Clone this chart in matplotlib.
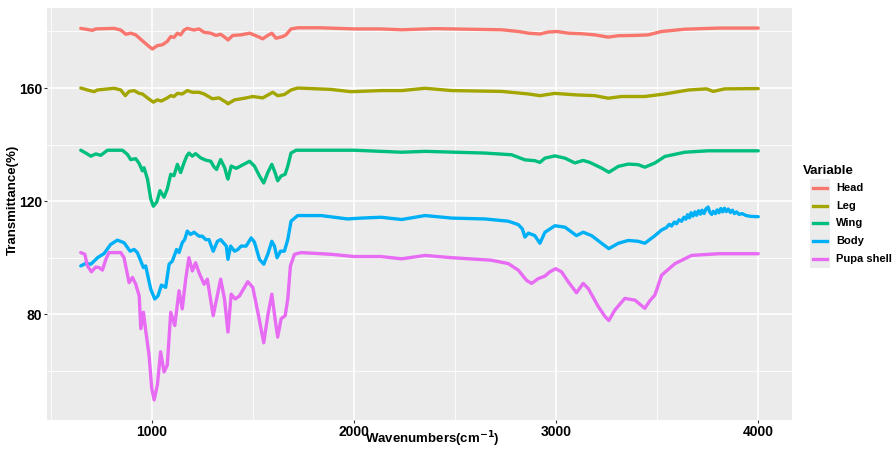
import matplotlib
matplotlib.use("Agg")
import matplotlib.pyplot as plt
from matplotlib.lines import Line2D
from matplotlib.patches import Rectangle
from matplotlib.ticker import MultipleLocator

plt.rcParams['font.family'] = ['Liberation Sans', 'DejaVu Sans']

series_names = ["Head", "Leg", "Wing", "Body", "Pupa shell"]
colors = ["#F8766D", "#A3A500", "#00BF7D", "#00B0F6", "#E76BF3"]

head_x = [649, 707, 723, 814, 847, 872, 896, 921, 954, 987, 1003, 1028, 1053, 1077, 1094, 1110, 1127, 1143, 1160,
          1176, 1209, 1234, 1259, 1292, 1317, 1341, 1361, 1377, 1401, 1442, 1484, 1525, 1549, 1574, 1594, 1615, 1648,
          1664, 1689, 1722, 1837, 2002, 2134, 2236, 2401, 2731, 2813, 2863, 2920, 2961, 3003, 3060, 3126, 3192, 3258,
          3308, 3390, 3456, 3522, 3637, 3802, 4000]
head_y = [181.1, 180.4, 180.9, 181.1, 180.5, 179.0, 179.4, 178.8, 176.7, 174.7, 173.8, 175.0, 175.3, 176.5, 178.2,
          177.9, 179.4, 178.8, 180.5, 181.1, 180.5, 180.9, 179.7, 179.4, 178.6, 179.0, 178.0, 177.0, 178.6, 178.8,
          179.4, 178.2, 177.4, 178.6, 179.4, 177.6, 178.2, 178.8, 180.9, 181.3, 181.3, 180.9, 180.9, 180.6, 181.0,
          180.6, 180.0, 179.4, 179.1, 179.8, 180.0, 179.4, 179.2, 178.8, 178.0, 178.5, 178.6, 178.8, 180.0, 180.8,
          181.2, 181.2]

leg_x = [649, 682, 715, 731, 814, 847, 869, 888, 913, 938, 954, 979, 1008, 1028, 1048, 1077, 1094, 1110, 1127, 1151,
         1176, 1201, 1234, 1259, 1300, 1333, 1374, 1377, 1409, 1459, 1500, 1549, 1599, 1623, 1656, 1689, 1722, 1887,
         1986, 2134, 2236, 2352, 2484, 2731, 2863, 2920, 2994, 3093, 3192, 3258, 3324, 3439, 3538, 3654, 3744, 3777,
         3835, 4000]
leg_y = [160.0, 159.3, 158.7, 159.3, 159.9, 159.3, 157.3, 158.8, 159.1, 158.1, 157.9, 156.5, 155.0, 155.8, 155.4,
         156.5, 157.3, 157.0, 158.1, 157.9, 159.1, 158.5, 158.5, 157.9, 156.2, 156.5, 154.7, 154.4, 155.8, 156.4,
         157.0, 156.5, 158.5, 157.3, 157.7, 159.3, 160.0, 159.5, 158.7, 159.1, 159.1, 159.9, 159.1, 158.8, 157.9,
         157.3, 158.1, 157.6, 157.3, 156.4, 157.0, 157.0, 157.9, 159.3, 159.7, 158.8, 159.7, 159.8]

wing_x = [649, 674, 699, 723, 748, 781, 855, 880, 896, 921, 938, 954, 962, 979, 995, 1008, 1025, 1041, 1061, 1077,
          1094, 1110, 1127, 1143, 1160, 1173, 1184, 1201, 1217, 1242, 1267, 1292, 1308, 1321, 1341, 1361, 1374, 1377,
          1393, 1418, 1484, 1508, 1533, 1554, 1574, 1594, 1610, 1623, 1640, 1660, 1673, 1689, 1714, 1837, 2002, 2134,
          2236, 2352, 2648, 2780, 2846, 2895, 2920, 2945, 2994, 3044, 3093, 3134, 3167, 3225, 3261, 3308, 3357, 3406,
          3439, 3489, 3538, 3637, 3752, 4000]
wing_y = [138.0, 137.0, 135.9, 136.7, 136.2, 138.0, 138.0, 136.5, 134.7, 135.0, 133.3, 130.7, 131.8, 127.8, 120.8,
          118.2, 119.7, 123.7, 121.4, 124.3, 129.5, 129.0, 133.0, 130.1, 133.6, 135.9, 137.0, 135.9, 136.8, 135.3,
          134.5, 134.1, 132.1, 131.2, 134.7, 131.8, 128.3, 127.8, 132.4, 131.6, 134.1, 132.4, 128.9, 126.4, 130.1,
          133.0, 130.1, 127.2, 128.9, 129.5, 132.4, 137.0, 138.0, 138.0, 138.0, 137.6, 137.3, 137.6, 137.0, 136.4,
          134.6, 134.3, 133.7, 135.2, 136.0, 135.2, 133.5, 134.4, 133.7, 131.7, 130.2, 132.3, 133.1, 132.9, 132.0,
          133.5, 135.8, 137.3, 137.8, 137.8]

body_x = [649, 674, 699, 732, 765, 797, 830, 863, 893, 913, 929, 946, 959, 970, 995, 1015, 1031, 1048, 1069, 1086,
          1102, 1123, 1135, 1151, 1163, 1176, 1192, 1209, 1234, 1250, 1267, 1283, 1304, 1325, 1341, 1369, 1377, 1390,
          1410, 1426, 1442, 1467, 1492, 1508, 1533, 1554, 1574, 1594, 1607, 1620, 1637, 1656, 1673, 1689, 1722, 1837,
          1969, 2035, 2134, 2236, 2352, 2484, 2648, 2764, 2813, 2833, 2846, 2863, 2895, 2920, 2945, 2994, 3044, 3101,
          3134, 3176, 3225, 3261, 3308, 3357, 3406, 3439, 3489, 3522, 3545, 3560, 3571, 3585, 3596, 3608, 3621, 3632,
          3642, 3650, 3660, 3668, 3677, 3687, 3695, 3705, 3714, 3722, 3732, 3741, 3752, 3760, 3770, 3778, 3788, 3797,
          3806, 3815, 3824, 3833, 3842, 3852, 3862, 3872, 3882, 3893, 3905, 3920, 3940, 3965, 4000]
body_y = [97.1, 98.0, 97.7, 100.0, 101.5, 104.7, 106.2, 105.3, 102.3, 102.9, 101.8, 98.8, 96.5, 97.1, 88.9, 85.4,
          86.5, 90.3, 89.5, 97.7, 98.8, 102.9, 101.8, 105.3, 106.4, 109.4, 108.2, 109.0, 107.6, 107.6, 106.4, 106.4,
          102.3, 105.8, 106.4, 104.1, 99.4, 104.1, 102.3, 102.9, 104.1, 104.1, 107.0, 105.5, 99.4, 97.7, 101.2, 105.8,
          104.1, 100.0, 102.3, 102.3, 106.4, 112.9, 114.9, 114.9, 113.7, 114.0, 114.3, 113.5, 114.9, 114.0, 113.7,
          112.9, 111.7, 110.2, 107.3, 108.7, 107.8, 105.1, 109.0, 111.3, 110.8, 107.8, 109.0, 107.8, 105.1, 103.2,
          105.1, 106.1, 105.8, 105.1, 107.8, 109.8, 110.6, 111.8, 111.2, 112.6, 112.0, 113.4, 112.9, 114.3, 113.6,
          115.2, 114.1, 115.9, 114.7, 116.2, 115.0, 116.6, 115.4, 116.8, 115.6, 117.2, 117.9, 116.1, 115.3, 116.4,
          115.6, 116.9, 115.9, 117.4, 116.2, 117.5, 116.3, 117.2, 116.0, 116.8, 115.6, 116.2, 115.3, 115.6, 114.9,
          114.6, 114.5]

pupa_x = [649, 669, 682, 702, 723, 740, 756, 773, 789, 847, 863, 888, 905, 921, 938, 946, 959, 970, 987, 1000, 1012,
          1028, 1044, 1061, 1077, 1094, 1114, 1135, 1151, 1168, 1184, 1201, 1217, 1234, 1259, 1275, 1304, 1321, 1341,
          1360, 1377, 1393, 1413, 1434, 1475, 1500, 1525, 1554, 1574, 1594, 1610, 1623, 1640, 1660, 1673, 1686, 1706,
          1739, 1887, 2002, 2134, 2236, 2352, 2484, 2681, 2764, 2813, 2854, 2879, 2912, 2945, 2969, 2998, 3027, 3060,
          3101, 3134, 3159, 3209, 3242, 3261, 3291, 3340, 3390, 3439, 3464, 3489, 3522, 3588, 3670, 3802, 4000]
pupa_y = [101.8, 101.2, 97.1, 95.0, 96.7, 96.5, 95.6, 99.4, 101.8, 101.8, 100.0, 91.2, 93.0, 90.6, 86.5, 74.9, 80.7,
          74.3, 65.5, 53.8, 49.7, 55.0, 66.7, 59.6, 62.0, 80.7, 76.0, 88.3, 81.9, 92.4, 100.0, 95.3, 98.2, 94.7, 90.6,
          92.4, 79.5, 85.4, 92.4, 85.4, 73.7, 87.1, 85.4, 86.5, 91.5, 89.5, 80.7, 69.9, 79.5, 87.1, 78.4, 71.9, 78.4,
          79.5, 85.4, 97.1, 101.2, 101.8, 101.2, 100.4, 100.4, 99.6, 100.8, 100.0, 99.1, 97.9, 95.6, 92.0, 90.9, 92.6,
          93.5, 95.0, 96.1, 95.0, 91.5, 87.6, 90.9, 89.1, 82.7, 79.2, 77.8, 81.5, 85.6, 85.0, 82.1, 84.8, 86.8, 93.8,
          97.9, 100.8, 101.4, 101.4]

xs = [head_x, leg_x, wing_x, body_x, pupa_x]
ys = [head_y, leg_y, wing_y, body_y, pupa_y]

x_ticks = [1000, 2000, 3000, 4000]
y_ticks = [80, 120, 160]

fig = plt.figure(figsize=(8.96, 4.5), dpi=100)
ax = fig.add_axes([47/896, 1-420/450, (792-47)/896, (420-8)/450])
ax.set_facecolor("#EBEBEB")
for sp in ax.spines.values():
    sp.set_visible(False)

for x, y, c in zip(xs, ys, colors):
    ax.plot(x, y, color=c, lw=2.4, solid_joinstyle="round", solid_capstyle="round", zorder=3)

ax.set_xlim(482, 4167)
ax.set_ylim(42.6, 188.3)
ax.set_xticks(x_ticks)
ax.set_yticks(y_ticks)
ax.xaxis.set_minor_locator(MultipleLocator(500))
ax.yaxis.set_minor_locator(MultipleLocator(20))
ax.grid(which="major", color="white", lw=1.2, zorder=0)
ax.grid(which="minor", color="white", lw=0.6, zorder=0)
ax.set_axisbelow(True)
ax.tick_params(which="major", length=2.5, width=0.8, color="#333333", labelsize=10, labelcolor="black", pad=1)
ax.tick_params(which="minor", length=0)
for lab in ax.get_xticklabels() + ax.get_yticklabels():
    lab.set_fontweight("bold")

ax.set_xlabel("Wavenumbers(cm$^{\\mathbf{-1}}$)", fontsize=9.5, fontweight="bold")
ax.xaxis.label.set_va("center")
ax.xaxis.set_label_coords((432-47)/745, -(439.5-420)/412)
ax.set_ylabel("Transmittance(%)", fontsize=9.5, fontweight="bold")
ax.yaxis.label.set_va("center")
ax.yaxis.label.set_ha("center")
ax.yaxis.set_label_coords(-(47-13)/745, (420-200)/412)

# legend (ggplot-like)
fig.text(803/896, 1-171/450, "Variable", fontsize=9.5, fontweight="bold", va="center", ha="left")
fig.add_artist(Rectangle((810/896, 1-268/450), 20/896, 89/450, transform=fig.transFigure,
                         facecolor="#EBEBEB", edgecolor="none"))
y0 = 188
for i, (name, c) in enumerate(zip(series_names, colors)):
    yy = 1 - (y0 + i*17.7)/450
    fig.add_artist(Line2D([813/896, 827/896], [yy, yy], transform=fig.transFigure, color=c, lw=2.4))
    fig.text(836/896, yy, name, fontsize=8, fontweight="bold", va="center", ha="left")

fig.savefig("out.png", dpi=100)
